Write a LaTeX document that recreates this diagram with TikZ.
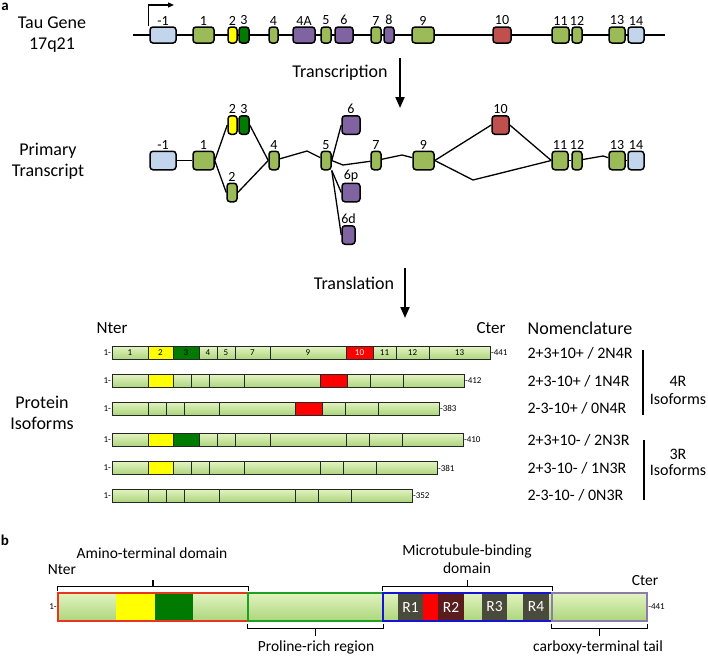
\documentclass[tikz,border=0pt]{standalone}
\usepackage{fontspec}
\setmainfont{Carlito}
\usetikzlibrary{arrows.meta}

\definecolor{exgreen}{HTML}{9BBB59}
\definecolor{exblue}{HTML}{C3D5EC}
\definecolor{expurple}{HTML}{8064A2}
\definecolor{exred}{HTML}{C0504D}
\definecolor{exyellow}{HTML}{FFFF00}
\definecolor{exdkgreen}{HTML}{007A00}
\definecolor{bartop}{HTML}{E2F3C0}
\definecolor{barbot}{HTML}{ACD67C}
\definecolor{rgrey}{HTML}{4A4A3C}
\definecolor{rmaroon}{HTML}{5A1C1C}
\definecolor{aminored}{HTML}{E8361E}
\definecolor{prolgreen}{HTML}{20A020}
\definecolor{mtblue}{HTML}{1414D2}
\definecolor{ctgrey}{HTML}{8C7CA8}

\begin{document}
\begin{tikzpicture}[x=1pt, y=-1pt,
  every label/.style = {font=\fontsize{14}{16}\selectfont, inner sep=1pt},
  exon/.style = {shape=rectangle, draw, line width=1.5pt, rounded corners=3pt,
    inner sep=0pt, minimum height=16pt, label distance=4pt},
  intron/.style = {line width=1.3pt},
  bigarrow/.style = {line width=2pt, -{Triangle[length=11pt,width=9pt]}},
  headtxt/.style = {font=\fontsize{18}{21}\selectfont, align=center},
  nom/.style = {font=\fontsize{16}{18}\selectfont, align=center},
  seg/.style = {shape=rectangle, draw=black!85, line width=0.7pt,
    inner sep=0pt, minimum height=13pt, font=\fontsize{9}{10}\selectfont},
  sg/.style = {top color=bartop, bottom color=barbot},
  sy/.style = {top color=exyellow, bottom color=exyellow},
  sd/.style = {top color=exdkgreen, bottom color=exdkgreen},
  sr/.style = {top color=red, bottom color=red, text=white},
  rep/.style = {top color=rgrey, bottom color=rgrey, text=white},
  repb/.style = {top color=rmaroon, bottom color=rmaroon, text=white},
  dom/.style = {shape=rectangle, inner sep=0pt, minimum height=28pt,
    font=\fontsize{15.5}{17}\selectfont},
  dombox/.style = {shape=rectangle, line width=1.3pt, inner sep=0pt, minimum height=28pt},
  numtext/.style = {font=\fontsize{9}{10}\selectfont, inner sep=0.5pt},
  lab/.style = {font=\fontsize{15.5}{18}\selectfont, align=center},
  brk/.style = {line width=1.2pt}]

  \useasboundingbox (0,0) rectangle (708,656);

  % a -- gene
  \node[font=\bfseries\fontsize{15}{15}\selectfont] (pa) at (5,7) {a};
  \node[headtxt] (gene) at (52,35) {Tau Gene\\17q21};
  \coordinate (gs) at (133,35);
  \coordinate (ge) at (665,35);
  \draw[intron] (gs) -- (ge);
  \foreach \n/\l/\a/\b/\c in {m1/-1/150/176/exblue, 1/1/193/214/exgreen, 2/2/228/237/exyellow,
      3/3/239/249/exdkgreen, 4/4/269/278/exgreen, 4A/4A/293/315/expurple, 5/5/321/331/exgreen,
      6/6/335/353/expurple, 7/7/371/381/exgreen, 8/8/384/394/expurple, 9/9/412/434/exgreen,
      10/10/493/511/exred, 11/11/552/569/exgreen, 12/12/572/582/exgreen,
      13/13/609/625/exgreen, 14/14/628/644/exblue}
    \node[exon, fill=\c, minimum width=\b-\a, label=above:\l] (g\n) at ({(\a+\b)/2},35) {};
  \coordinate (tss) at (174,5);
  \draw[line width=1.2pt, -{Triangle[length=6pt,width=5pt]}] ([xshift=-1pt]gm1.north west) |- (tss);

  \node[headtxt] (transcr) at (340,73) {Transcription};
  \coordinate (tra) at (400,58);
  \coordinate (trb) at (400,108);
  \draw[bigarrow] (tra) -- (trb);

  % primary transcript
  \node[headtxt] (prim) at (48,161) {Primary\\Transcript};
  \foreach \n/\l/\a/\b/\y/\c in {m1/-1/150/176/160.5/exblue, 1/1/193/214/160.5/exgreen,
      2/2/228/237/125/exyellow, 3/3/239/249/125/exdkgreen, 2b/2/227/237/192.5/exgreen,
      4/4/269/279/160.5/exgreen, 5/5/321/331/160.5/exgreen, 6/6/342/360/125/expurple,
      6p/6p/342/360/192.5/expurple, 6d/6d/342/355/235/expurple, 7/7/371/381/160.5/exgreen,
      9/9/413/434/160.5/exgreen, 10/10/492/509/125/exred, 11/11/552/568/160.5/exgreen,
      12/12/572/582/160.5/exgreen, 13/13/609/625/160.5/exgreen, 14/14/628/644/160.5/exblue}
    \node[exon, minimum height=18.5pt, fill=\c, minimum width=\b-\a, label=above:\l] (t\n) at ({(\a+\b)/2},\y) {};
  \coordinate (k1) at (307,151);
  \coordinate (k2) at (343,165);
  \coordinate (k3) at (402,155);
  \coordinate (k4) at (473,180);
  \coordinate (k5) at (603,156);
  \draw[intron] (tm1) -- (t1);
  \draw[intron] (t1.east) -- (t2.west);
  \draw[intron] (t1.east) -- (t2b.west);
  \draw[intron] (t3.east) -- (t4.west);
  \draw[intron] (t2b.east) -- (t4.west);
  \draw[intron] (t4) -- (k1) -- (t5);
  \draw[intron] (t5.east) -- (t6.west);
  \draw[intron] (t5.south east) -- (t6p.west);
  \draw[intron] (t5.south east) -- (t6d.west);
  \draw[intron] (t5.east) -- (k2) -- (t7);
  \draw[intron] (t7) -- (k3) -- (t9);
  \draw[intron] (t9.east) -- (t10.west);
  \draw[intron] (t10.east) -- (t11.west);
  \draw[intron] (t9.east) -- (k4) -- (t11.west);
  \draw[intron] (t11) -- (t12);
  \draw[intron] (t12) -- (k5) -- (t13);
  \draw[intron] (t13) -- (t14);

  \node[headtxt] (transl) at (354,283) {Translation};
  \coordinate (tla) at (405,268);
  \coordinate (tlb) at (405,318);
  \draw[bigarrow] (tla) -- (tlb);

  % protein isoforms
  \node[headtxt] (prot) at (42,413) {Protein\\Isoforms};
  \node[font=\fontsize{17}{19}\selectfont] (nter) at (112,328) {Nter};
  \node[font=\fontsize{17}{19}\selectfont] (cter) at (491,328) {Cter};
  \node[headtxt] (nomen) at (580,328) {Nomenclature};
  \foreach \r/\y/\len/\segs/\t in {
      1/353/441/{36/sg/1,25/sy/2,26/sd/3,18/sg/4,18/sg/5,35/sg/7,76/sg/9,27/sr/10,23/sg/11,33/sg/12,61/sg/13}/{2+3+10+ / 2N4R},
      2/381/412/{36/sg/1,25/sy/2,18/sg/4,18/sg/5,35/sg/7,76/sg/9,27/sr/10,23/sg/11,33/sg/12,61/sg/13}/{2+3-10+ / 1N4R},
      3/408.5/383/{36/sg/1,18/sg/4,18/sg/5,35/sg/7,76/sg/9,27/sr/10,23/sg/11,33/sg/12,61/sg/13}/{2-3-10+ / 0N4R},
      4/440/410/{36/sg/1,25/sy/2,26/sd/3,18/sg/4,18/sg/5,35/sg/7,76/sg/9,23/sg/11,33/sg/12,61/sg/13}/{2+3+10- / 2N3R},
      5/468/381/{36/sg/1,25/sy/2,18/sg/4,18/sg/5,35/sg/7,76/sg/9,23/sg/11,33/sg/12,61/sg/13}/{2+3-10- / 1N3R},
      6/495.5/352/{36/sg/1,18/sg/4,18/sg/5,35/sg/7,76/sg/9,23/sg/11,33/sg/12,61/sg/13}/{2-3-10- / 0N3R}}
  {
    \foreach \w/\c/\e [count=\i, remember=\xe as \xs (initially 112), evaluate=\w as \xe using \xs+\w] in \segs
    {
      \node[seg, \c, minimum width=\w] (b\r s\i) at ({(\xs+\xe)/2},\y) {\ifnum\r=1 \e\fi};
      \coordinate (b\r end) at (b\r s\i.east);
    }
    \node[numtext, anchor=east] (one\r) at (b\r s1.west) {1-};
    \node[numtext, anchor=west] (len\r) at (b\r end) {-\len};
    \node[nom, anchor=west] (nom\r) at (524,\y) {\t};
  }
  \coordinate (r4a) at (643,350);
  \coordinate (r4b) at (643,415);
  \draw[brk] (r4a) -- (r4b);
  \node[nom] (four) at (678,390) {4R\\Isoforms};
  \coordinate (r3a) at (644,440);
  \coordinate (r3b) at (644,500);
  \draw[brk] (r3a) -- (r3b);
  \node[nom] (three) at (678,462) {3R\\[-2pt]Isoforms};

  % b -- domains
  \node[font=\bfseries\fontsize{15}{15}\selectfont] (pb) at (5,540) {b};
  \foreach \w/\c/\t [count=\i, remember=\xe as \xs (initially 58), evaluate=\w as \xe using \xs+\w] in
      {58/sg/{},39/sy/{},38/sd/{},55/sg/{},135/sg/{},15/sg/{},25/rep/R1,15/sr/{},26/repb/R2,
       18/sg/{},25/rep/R3,16/sg/{},26/rep/R4,3/sg/{},95/sg/{}}
    \node[dom, \c, minimum width=\w] (d\i) at ({(\xs+\xe)/2},607) {\t};
  \node[dombox, draw=aminored, minimum width=190] (amino) at (153,607) {};
  \node[dombox, draw=prolgreen, minimum width=135] (prol) at (315.5,607) {};
  \node[dombox, draw=mtblue, minimum width=169] (mtbd) at (467.5,607) {};
  \node[dombox, draw=ctgrey, minimum width=95] (ctail) at (599.5,607) {};
  \node[numtext, anchor=east] (oneb) at (amino.west) {1-};
  \node[numtext, anchor=west] (lenb) at (ctail.east) {-441};

  \draw[brk] ([yshift=1pt]amino.north west) -- ([yshift=6pt]amino.north west) -- ([yshift=6pt]amino.north east) -- ([yshift=1pt]amino.north east);
  \draw[brk] ([yshift=6pt]amino.north) -- ([yshift=12pt]amino.north);
  \draw[brk] ([yshift=1pt]mtbd.north west) -- ([yshift=6pt]mtbd.north west) -- ([yshift=6pt]mtbd.north east) -- ([yshift=1pt]mtbd.north east);
  \draw[brk] ([yshift=6pt]mtbd.north) -- ([yshift=12pt]mtbd.north);
  \draw[brk] ([yshift=-2pt]prol.south west) -- ([yshift=-7pt]prol.south west) -- ([yshift=-7pt]prol.south east) -- ([yshift=-2pt]prol.south east);
  \draw[brk] ([yshift=-7pt]prol.south) -- ([yshift=-14pt]prol.south);
  \draw[brk] ([yshift=-2pt]ctail.south west) -- ([yshift=-7pt]ctail.south west) -- ([yshift=-7pt]ctail.south east) -- ([yshift=-2pt]ctail.south east);
  \draw[brk] ([yshift=-7pt]ctail.south) -- ([yshift=-14pt]ctail.south);

  \node[lab] (aminotxt) at (152,553) {Amino-terminal domain};
  \node[lab] (nterb) at (62,570) {Nter};
  \node[lab] (mtbdtxt) at (467,559) {Microtubule-binding\\domain};
  \node[lab] (cterb) at (645,581) {Cter};
  \node[lab] (proltxt) at (316,647) {Proline-rich region};
  \node[lab] (ctailtxt) at (598,647) {carboxy-terminal tail};
\end{tikzpicture}
\end{document}
